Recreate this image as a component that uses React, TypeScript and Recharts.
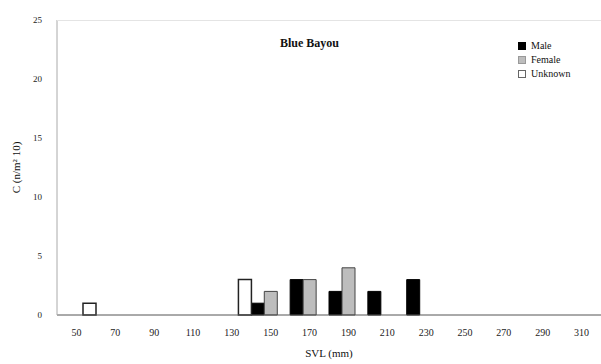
import React from 'react';
import { BarChart, Bar, XAxis, YAxis } from 'recharts';

// SVL bins (mm)
const bins = ['50', '70', '90', '110', '130', '150', '170', '190', '210', '230', '250', '270', '290', '310'];
const male = [0, 0, 0, 0, 0, 1, 3, 2, 2, 3, 0, 0, 0, 0];
const female = [0, 0, 0, 0, 0, 2, 3, 4, 0, 0, 0, 0, 0, 0];
const unknown = [1, 0, 0, 0, 3, 0, 0, 0, 0, 0, 0, 0, 0, 0];
const yTicks = [0, 5, 10, 15, 20, 25];

const data = bins.map((b, i) => ({ bin: b, Male: male[i], Female: female[i], Unknown: unknown[i] }));

const font = '"Liberation Serif", "DejaVu Serif", serif';

const legendItems = [
  { name: 'Male', fill: '#000', stroke: '#000' },
  { name: 'Female', fill: '#bdbdbd', stroke: '#999' },
  { name: 'Unknown', fill: '#fff', stroke: '#666' },
];

const LegendBox = () => (
  <div style={{ position: 'absolute', left: 518, top: 39, fontFamily: font, fontSize: 10, color: '#111', lineHeight: '14px' }}>
    {legendItems.map((it) => (
      <div key={it.name} style={{ display: 'flex', alignItems: 'center' }}>
        <span style={{ width: 6, height: 6, background: it.fill, border: `1px solid ${it.stroke}`, marginRight: 5, display: 'inline-block' }} />
        {it.name}
      </div>
    ))}
  </div>
);

export default function App() {
  return (
    <div style={{ position: 'absolute', left: 0, top: 0, width: 601, height: 364, background: '#fff' }}>
      <BarChart width={601} height={364} data={data} margin={{ top: 20, right: 0, bottom: 19, left: 0 }} barCategoryGap={0} barGap={0}>
        <XAxis
          dataKey="bin"
          height={30}
          tickLine={false}
          axisLine={{ stroke: '#555' }}
          tick={{ fill: '#222', fontSize: 10, fontFamily: font }}
          tickMargin={8}
          interval={0}
          label={{ value: 'SVL (mm)', position: 'insideBottom', offset: -12, style: { fontFamily: font, fontSize: 11, fill: '#111' } }}
        />
        <YAxis
          width={57}
          domain={[0, 25]}
          ticks={yTicks}
          tickLine={false}
          axisLine={{ stroke: '#aaa' }}
          tick={{ fill: '#222', fontSize: 9, fontFamily: font }}
          tickMargin={9}
          label={{ value: 'C (n/m² 10)', angle: -90, position: 'insideLeft', offset: 16, style: { fontFamily: font, fontSize: 11, fill: '#111', textAnchor: 'middle' } }}
        />
        <Bar dataKey="Male" fill="#000" stroke="#000" isAnimationActive={false} />
        <Bar dataKey="Female" fill="#bdbdbd" stroke="#444" strokeWidth={1} isAnimationActive={false} />
        <Bar dataKey="Unknown" fill="#fff" stroke="#222" strokeWidth={1.5} isAnimationActive={false} />
      </BarChart>
      <LegendBox />
      <div style={{ position: 'absolute', left: 57, right: 0, top: 20, height: 1, background: '#e4e4e4' }} />
      <div style={{ position: 'absolute', left: 280, top: 36, fontFamily: font, fontSize: 12, fontWeight: 'bold', color: '#111' }}>
        Blue Bayou
      </div>
    </div>
  );
}
